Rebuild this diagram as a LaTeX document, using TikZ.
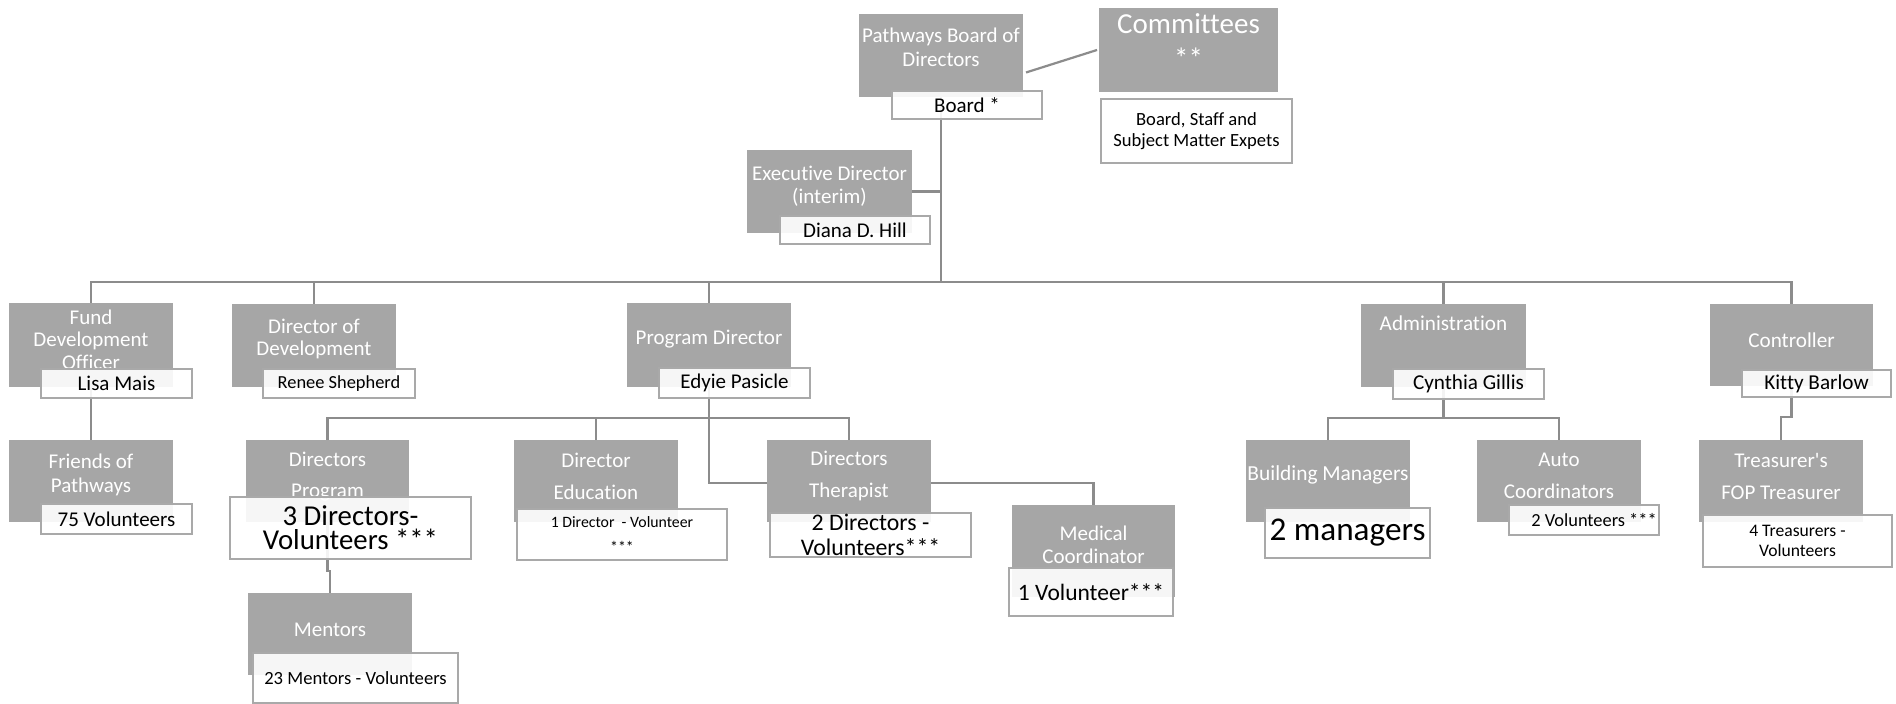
\documentclass[tikz,border=0pt]{standalone}
\usepackage{fontspec}
\setmainfont{Carlito}[Ligatures={NoCommon}]
\usetikzlibrary{backgrounds,calc}
\definecolor{boxgray}{HTML}{A6A6A6}
\definecolor{edgegray}{HTML}{A9A9A9}
\definecolor{conngray}{HTML}{8C8C8C}
\newcommand\fs[2]{\fontsize{#1}{#2}\selectfont}
\newcommand\GBox[5]{\node[gbx, minimum width={(#4-#2)*0.5pt}, minimum height={(#5-#3)*0.5pt}] (#1) at (#2,#3) {};}
\newcommand\WBox[7]{\node[wbx, minimum width={(#4-#2)*0.5pt}, minimum height={(#5-#3)*0.5pt}, font={#6}] (#1) at (#2,#3) {#7};}
\begin{document}
\begin{tikzpicture}[x=0.5pt,y=-0.5pt,
 gbx/.style={fill=boxgray, draw=none, inner sep=0pt, outer sep=0pt, anchor=north west},
 wbx/.style={fill=white, fill opacity=0.9, text opacity=1, draw=edgegray, draw opacity=1, line width=1pt, inner sep=0pt, outer sep=0pt, anchor=north west, align=center, text=black},
 gtxt/.style={text=white, align=center, inner sep=0pt},
 conn/.style={draw=conngray, line width=1.1pt},
]
\useasboundingbox (0,0) rectangle (1896,704);

% ---- top level
\GBox{board}{859}{14}{1023}{97}
\node[gtxt, font=\fs{10.5}{12}] (board-t) at (941,47) {Pathways Board of\\Directors};
\WBox{boardw}{892}{91}{1042}{119}{\fs{10.5}{12}}{Board *}

\GBox{comm}{1099}{8}{1278}{92}
\node[gtxt, font=\fs{14.5}{17.5}] (comm-t) at (1188.5,41) {Committees\\**};
\WBox{commw}{1101}{99}{1292}{163}{\fs{9.3}{10.5}}{Board, Staff and\\Subject Matter Expets}

\GBox{exec}{747}{150}{912}{233}
\node[gtxt, font=\fs{10.5}{11.5}] (exec-t) at (829.5,186) {Executive Director\\(interim)};
\WBox{execw}{780}{216}{930}{244}{\fs{10.5}{12}}{Diana D. Hill}

% ---- second level
\GBox{fund}{9}{303}{173}{387}
\node[gtxt, font=\fs{10.5}{11.25}] (fund-t) at (91,339.5) {Fund\\Development\\Officer};
\WBox{fundw}{41}{369}{192}{398}{\fs{10.5}{12}}{Lisa Mais}

\GBox{dirdev}{232}{304}{396}{387}
\node[gtxt, font=\fs{10.5}{11}] (dirdev-t) at (314,339) {Director of\\Development};
\WBox{dirdevw}{263}{369}{415}{398}{\fs{9.2}{11}}{Renee Shepherd}

\GBox{prog}{627}{303}{791}{387}
\node[gtxt, font=\fs{10.5}{12}] (prog-t) at (709,339) {Program Director};
\WBox{progw}{659}{368}{810}{398}{\fs{10.5}{12}}{Edyie Pasicle}

\GBox{admin}{1361}{304}{1526}{387}
\node[gtxt, font=\fs{10.6}{12}] (admin-t) at (1443.5,323) {Administration};
\WBox{adminw}{1393}{369}{1544}{399}{\fs{10.6}{12}}{Cynthia Gillis}

\GBox{ctrl}{1710}{304}{1873}{386}
\node[gtxt, font=\fs{10.6}{12}] (ctrl-t) at (1791.5,340) {Controller};
\WBox{ctrlw}{1742}{370}{1891}{397}{\fs{10.6}{12}}{Kitty Barlow}

% ---- third level
\GBox{friends}{9}{440}{173}{522}
\node[gtxt, font=\fs{10.5}{12}] (friends-t) at (91,475) {Friends of\\Pathways};
\WBox{friendsw}{41}{504}{192}{534}{\fs{10.5}{12}}{75 Volunteers}

\GBox{dprog}{246}{440}{409}{522}
\node[gtxt, font=\fs{10.5}{15.5}] (dprog-t) at (327.5,477) {Directors\\Program};
\WBox{dprogw}{230}{497}{471}{559}{\fs{14.4}{12}}{3 Directors-\\Volunteers ***}

\GBox{dedu}{514}{440}{678}{522}
\node[gtxt, font=\fs{10.5}{16}] (dedu-t) at (596,476) {Director\\Education};
\WBox{deduw}{517}{509}{727}{560}{\fs{7.9}{12.3}}{1 Director\ \ - Volunteer\\***}

\GBox{dther}{767}{440}{931}{522}
\node[gtxt, font=\fs{10.5}{16}] (dther-t) at (849,476) {Directors\\Therapist};
\WBox{dtherw}{770}{513}{971}{557}{\fs{11.9}{12.5}}{2 Directors -\\Volunteers***}

\GBox{med}{1012}{505}{1175}{597}
\node[gtxt, font=\fs{10.5}{11.5}] (med-t) at (1093.5,544.5) {Medical\\Coordinator};
\WBox{medw}{1009}{568}{1173}{616}{\fs{11.75}{13}}{1 Volunteer***}

\GBox{bman}{1246}{440}{1410}{522}
\node[gtxt, font=\fs{10.7}{12}] (bman-t) at (1328,475) {Building Managers};
\WBox{bmanw}{1265}{508}{1430}{558}{\fs{16.6}{18}}{2 managers}

\GBox{auto}{1477}{440}{1641}{522}
\node[gtxt, font=\fs{10.5}{16}] (auto-t) at (1559,476) {Auto\\Coordinators};
\WBox{autow}{1509}{505}{1659}{535}{\fs{9.2}{11}}{\hspace{10pt}2 Volunteers ***}

\GBox{treas}{1699}{440}{1863}{522}
\node[gtxt, font=\fs{10.5}{16}] (treas-t) at (1781,476.5) {Treasurer\textquotesingle s\\FOP Treasurer};
\WBox{treasw}{1703}{515}{1892}{567}{\fs{8.8}{10}}{4 Treasurers -\\Volunteers}

% ---- fourth level
\GBox{mentors}{248}{593}{412}{675}
\node[gtxt, font=\fs{10.5}{12}] (mentors-t) at (330,630) {Mentors};
\WBox{mentorsw}{253}{653}{458}{703}{\fs{9.3}{11}}{23 Mentors - Volunteers}

% ---- connectors
\begin{pgfonlayer}{background}
\fill[white] (0,0) rectangle (1896,704);
\coordinate (busy) at (0,282);
\coordinate (suby) at (0,418);
\coordinate (medy) at (0,483);
\draw[conn] (board.south) -- (board.south |- busy);
\draw[conn] ([shift={(3,17)}]board.east) -- ([shift={(-2,0)}]comm.west);
\draw[conn] (exec.east) -- (exec.east -| board.south);
\draw[conn] (fund.north) -- (fund.north |- busy) -- (ctrl.north |- busy) -- (ctrl.north);
\draw[conn] (dirdev.north) -- (dirdev.north |- busy);
\draw[conn] (prog.north) -- (prog.north |- busy);
\draw[conn] (admin.north) -- (admin.north |- busy);
\draw[conn] (fund.south) -- (friends.north);
\draw[conn] (dprog.north) -- (dprog.north |- suby) -- (dther.north |- suby) -- (dther.north);
\draw[conn] (dedu.north) -- (dedu.north |- suby);
\draw[conn] (prog.south) -- (prog.south |- medy) -- (med.north |- medy) -- (med.north);
\draw[conn] (dprog.south) |- ([shift={(0,-22)}]mentors.north) -- (mentors.north);
\draw[conn] (bman.north) -- (bman.north |- suby) -- (auto.north |- suby) -- (auto.north);
\draw[conn] (admin.south) -- (admin.south |- suby);
\draw[conn] (ctrl.south) |- ([shift={(0,-23)}]treas.north) -- (treas.north);
\end{pgfonlayer}
\end{tikzpicture}
\end{document}
